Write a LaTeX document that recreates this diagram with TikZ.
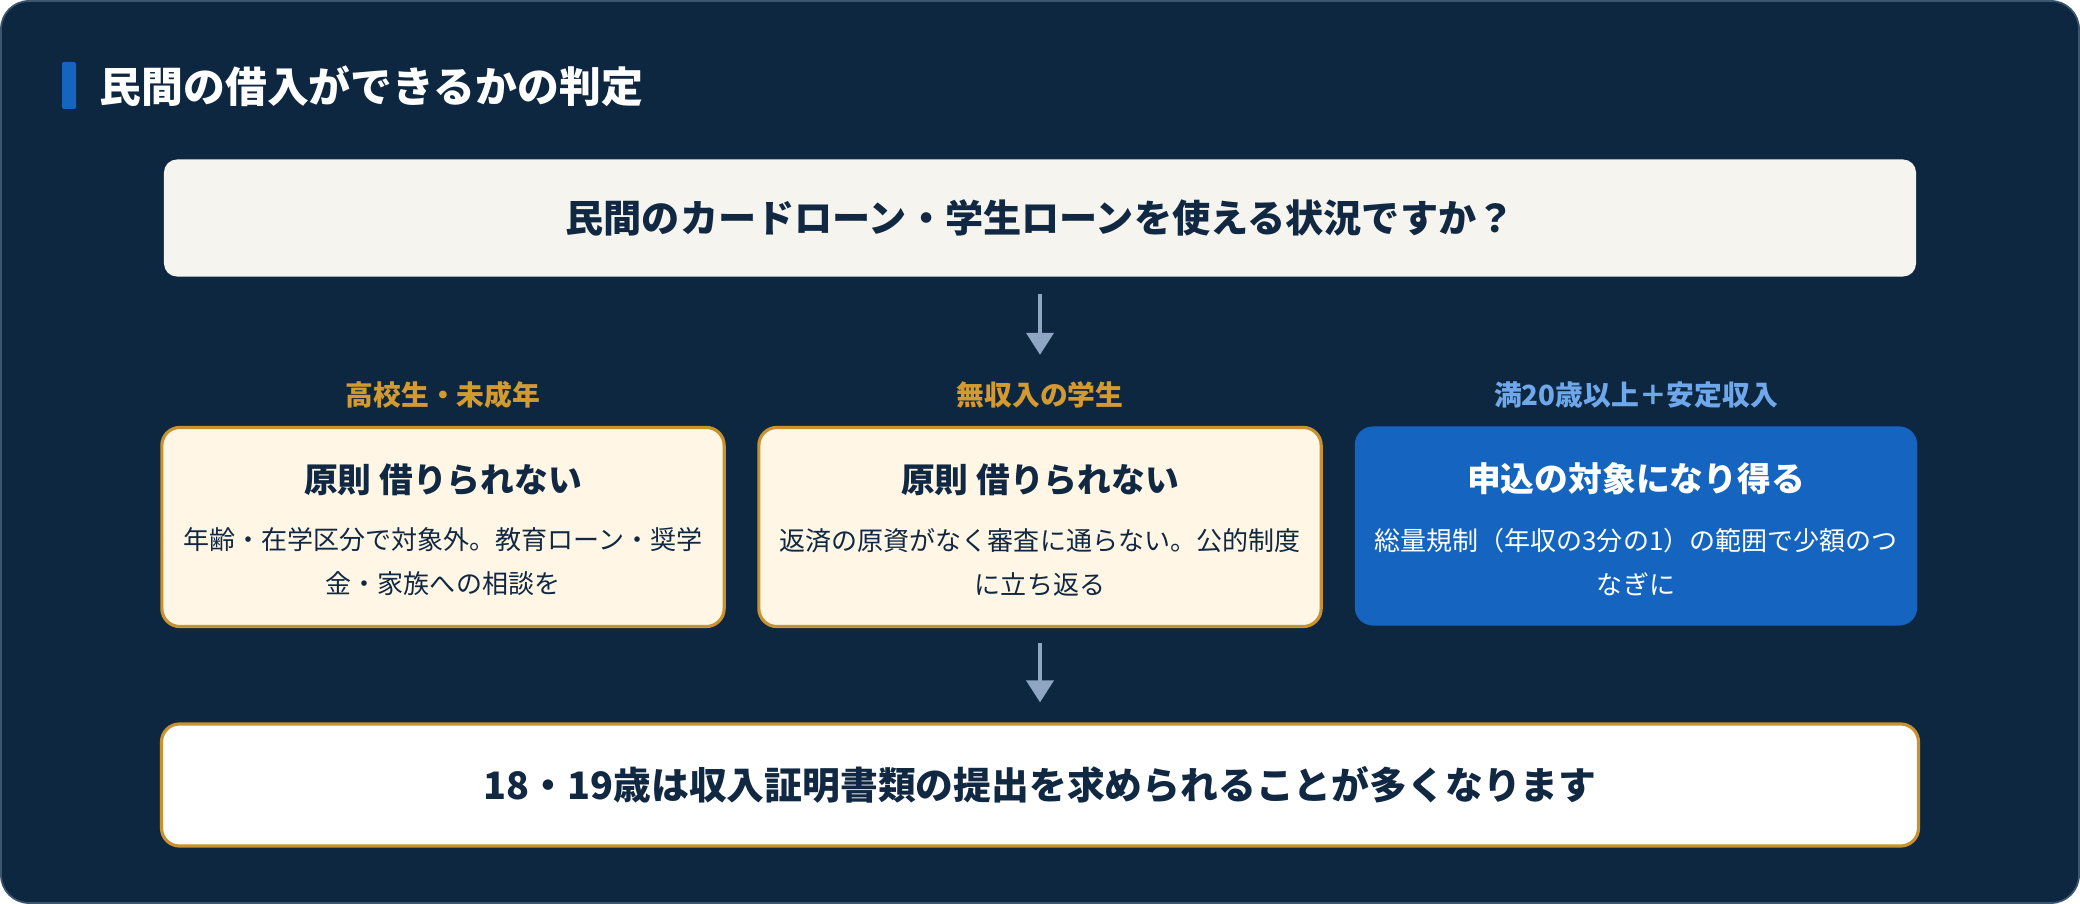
\documentclass[tikz,border=0pt]{standalone}
\usepackage{fontspec}
\setmainfont{Noto Sans CJK JP}
\usetikzlibrary{arrows.meta,positioning}
\definecolor{cardbg}{HTML}{0E2741}
\definecolor{cardedge}{HTML}{3C5670}
\definecolor{navytext}{HTML}{112842}
\definecolor{accentblue}{HTML}{1565C0}
\definecolor{questionfill}{HTML}{F5F4EF}
\definecolor{creamfill}{HTML}{FFF6E6}
\definecolor{goldline}{HTML}{C8922F}
\definecolor{goldtext}{HTML}{D39A30}
\definecolor{skytext}{HTML}{6FA8EA}
\definecolor{arrowgray}{HTML}{8EA6C2}
\tikzset{
    flowarrow/.style={draw=arrowgray, line width=1.1pt,
        -{Triangle[width=0.27cm,length=0.22cm]}},
    casebox/.style={rounded corners=0.18cm, minimum width=5.62cm,
        minimum height=1.99cm, inner sep=0pt},
    cautionbox/.style={casebox, draw=goldline, line width=0.9pt, fill=creamfill},
    okbox/.style={casebox, fill=accentblue},
    caselabel/.style={inner sep=0pt, font=\bfseries\fontsize{7.9}{9}\selectfont},
    casehead/.style={inner sep=0pt, font=\bfseries\fontsize{9.6}{11}\selectfont},
    casebody/.style={inner sep=0pt, align=center, font=\fontsize{7.4}{12.5}\selectfont},
}
\begin{document}
\begin{tikzpicture}[x=0.01cm, y=-0.01cm]
    \useasboundingbox (0,0) rectangle (2080,904);
    % card
    \draw[cardedge, fill=cardbg, line width=0.5pt, rounded corners=0.28cm] (1,1) rectangle (2079,903);
    \fill[accentblue, rounded corners=0.02cm] (62,62) rectangle (76,109);
    \node[anchor=west, inner sep=0pt, text=white, font=\bfseries\fontsize{11.9}{14}\selectfont] (title) at (99,86) {民間の借入ができるかの判定};

    % question
    \node[fill=questionfill, rounded corners=0.13cm, minimum width=17.51cm, minimum height=1.17cm,
          text=navytext, font=\bfseries\fontsize{10.85}{13}\selectfont] (quest) at (1040,218) {民間のカードローン・学生ローンを使える状況ですか？};

    % three cases
    \node[cautionbox] (minorbox) at (443,527) {};
    \node[cautionbox] (nojobbox) at (1040,527) {};
    \node[okbox] (adultbox) at (1636,526) {};
    \node[caselabel, text=goldtext, above=0.17cm of minorbox] (minorlab) {高校生・未成年};
    \node[caselabel, text=goldtext, above=0.17cm of nojobbox] (nojoblab) {無収入の学生};
    \node[caselabel, text=skytext, above=0.17cm of adultbox] (adultlab) {満20歳以上＋安定収入};

    \node[casehead, text=navytext] (minorhead) at (443,480) {原則 借りられない};
    \node[casebody, text=navytext] (minorbody) at (443,562) {年齢・在学区分で対象外。教育ローン・奨学\\金・家族への相談を};
    \node[casehead, text=navytext] (nojobhead) at (1040,480) {原則 借りられない};
    \node[casebody, text=navytext] (nojobbody) at (1040,562) {返済の原資がなく審査に通らない。公的制度\\に立ち返る};
    \node[casehead, text=white] (adulthead) at (1636,479) {申込の対象になり得る};
    \node[casebody, text=white] (adultbody) at (1636,562) {総量規制（年収の3分の1）の範囲で少額のつ\\なぎに};

    % note
    \node[draw=goldline, line width=0.9pt, fill=white, rounded corners=0.18cm, minimum width=17.56cm,
          minimum height=1.22cm, text=navytext, font=\bfseries\fontsize{10.75}{13}\selectfont] (note) at (1040,785) {18・19歳は収入証明書類の提出を求められることが多くなります};

    \draw[flowarrow, shorten <=0.17cm, shorten >=0.26cm] (quest) -- (nojoblab);
    \draw[flowarrow, shorten <=0.15cm, shorten >=0.20cm] (nojobbox) -- (note);
\end{tikzpicture}
\end{document}
